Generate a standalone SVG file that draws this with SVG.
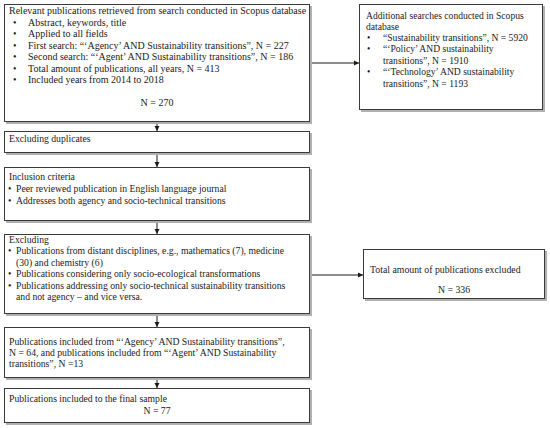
<svg xmlns="http://www.w3.org/2000/svg" width="550" height="428" viewBox="0 0 550 428">
<defs>
<style>
.box{fill:#fff;stroke:#3a3a3a;stroke-width:1}
.sh{fill:#b0b0b0}
text{font-family:"Liberation Serif","Times New Roman",serif;font-size:10px;fill:#1a1a1a}
.s{font-size:9.7px}
.a{font-size:9.6px}
.l{font-size:9.8px}
.c{text-anchor:middle}
.ln{stroke:#1a1a1a;stroke-width:1;fill:none}
</style>
<marker id="ah" markerWidth="6" markerHeight="6" refX="5" refY="3" orient="auto" markerUnits="userSpaceOnUse">
<path d="M0,0.5 L5,3 L0,5.5 Z" fill="#1a1a1a"/>
</marker>
</defs>
<rect width="550" height="428" fill="#fff"/>
<g id="connectors">
<line class="ln" x1="310" y1="63" x2="359" y2="63" marker-end="url(#ah)"/>
<line class="ln" x1="157" y1="122" x2="157" y2="131" marker-end="url(#ah)"/>
<line class="ln" x1="157" y1="153" x2="157" y2="167" marker-end="url(#ah)"/>
<line class="ln" x1="157" y1="221" x2="157" y2="234" marker-end="url(#ah)"/>
<line class="ln" x1="310" y1="275" x2="363" y2="275" marker-end="url(#ah)"/>
<line class="ln" x1="157" y1="314" x2="157" y2="327" marker-end="url(#ah)"/>
<line class="ln" x1="157" y1="378" x2="157" y2="388" marker-end="url(#ah)"/>
</g>
<g id="search">
<rect class="sh" x="6" y="6" width="306" height="118"/>
<rect class="box" x="4.5" y="4.5" width="305" height="117"/>
<text x="9" y="14">Relevant publications retrieved from search conducted in Scopus database</text>
<text x="13" y="25.5">•</text><text x="28" y="25.5">Abstract, keywords, title</text>
<text x="13" y="37">•</text><text x="28" y="37">Applied to all fields</text>
<text x="13" y="48.5">•</text><text x="28" y="48.5">First search: “‘Agency’ AND Sustainability transitions”, N = 227</text>
<text x="13" y="60">•</text><text x="28" y="60">Second search: “‘Agent’ AND Sustainability transitions”, N = 186</text>
<text x="13" y="71.5">•</text><text x="28" y="71.5">Total amount of publications, all years, N = 413</text>
<text x="13" y="83">•</text><text x="28" y="83">Included years from 2014 to 2018</text>
<text class="c" x="157" y="106">N = 270</text>
</g>
<g id="additional">
<rect class="sh" x="361" y="6" width="184" height="106"/>
<rect class="box" x="359.5" y="4.5" width="183" height="105"/>
<text class="a" x="366" y="18.5">Additional searches conducted in Scopus</text>
<text class="a" x="366" y="29.5">database</text>
<text class="a" x="367" y="41">•</text><text class="a" x="383" y="41">“Sustainability transitions”, N = 5920</text>
<text class="a" x="367" y="52">•</text><text class="a" x="383" y="52">“‘Policy’ AND sustainability</text>
<text class="a" x="383" y="63.5">transitions”, N = 1910</text>
<text class="a" x="367" y="75">•</text><text class="a" x="383" y="75">“‘Technology’ AND sustainability</text>
<text class="a" x="383" y="86.5">transitions”, N = 1193</text>
</g>
<g id="duplicates">
<rect class="sh" x="6" y="133" width="306" height="22"/>
<rect class="box" x="4.5" y="131.5" width="305" height="21"/>
<text class="s" x="9" y="141.5">Excluding duplicates</text>
</g>
<g id="inclusion">
<rect class="sh" x="6" y="169" width="306" height="54"/>
<rect class="box" x="4.5" y="167.5" width="305" height="53"/>
<text class="s" x="9" y="179.5">Inclusion criteria</text>
<text class="s" x="8" y="191.5">•</text><text class="s" x="16" y="191.5">Peer reviewed publication in English language journal</text>
<text class="s" x="8" y="203.5">•</text><text class="s" x="16" y="203.5">Addresses both agency and socio-technical transitions</text>
</g>
<g id="excluding">
<rect class="sh" x="6" y="236" width="306" height="80"/>
<rect class="box" x="4.5" y="234.5" width="305" height="79"/>
<text class="s" x="9" y="242.5">Excluding</text>
<text class="s" x="8" y="254">•</text><text class="s" x="16" y="254">Publications from distant disciplines, e.g.,  mathematics (7), medicine</text>
<text class="s" x="16" y="265.5">(30) and chemistry (6)</text>
<text class="s" x="8" y="277">•</text><text class="s" x="16" y="277">Publications considering only socio-ecological transformations</text>
<text class="s" x="8" y="288.5">•</text><text class="s" x="16" y="288.5">Publications addressing only socio-technical sustainability transitions</text>
<text class="s" x="16" y="300">and not agency – and vice versa.</text>
</g>
<g id="excluded-total">
<rect class="sh" x="365" y="251" width="182" height="50"/>
<rect class="box" x="363.5" y="249.5" width="181" height="49"/>
<text class="l" x="370" y="272.5">Total amount of publications excluded</text>
<text class="l c" x="454" y="292.5">N = 336</text>
</g>
<g id="included">
<rect class="sh" x="6" y="329" width="306" height="51"/>
<rect class="box" x="4.5" y="327.5" width="305" height="50"/>
<text class="s" x="9" y="344.5">Publications included from “‘Agency’ AND Sustainability transitions”,</text>
<text class="s" x="9" y="355.5">N = 64, and publications included from “‘Agent’ AND Sustainability</text>
<text class="s" x="9" y="366.5">transitions”, N =13</text>
</g>
<g id="final">
<rect class="sh" x="6" y="390" width="306" height="35"/>
<rect class="box" x="4.5" y="388.5" width="305" height="34"/>
<text class="s" x="9" y="402">Publications included to the final sample</text>
<text class="s c" x="157" y="413.5">N = 77</text>
</g>
</svg>
